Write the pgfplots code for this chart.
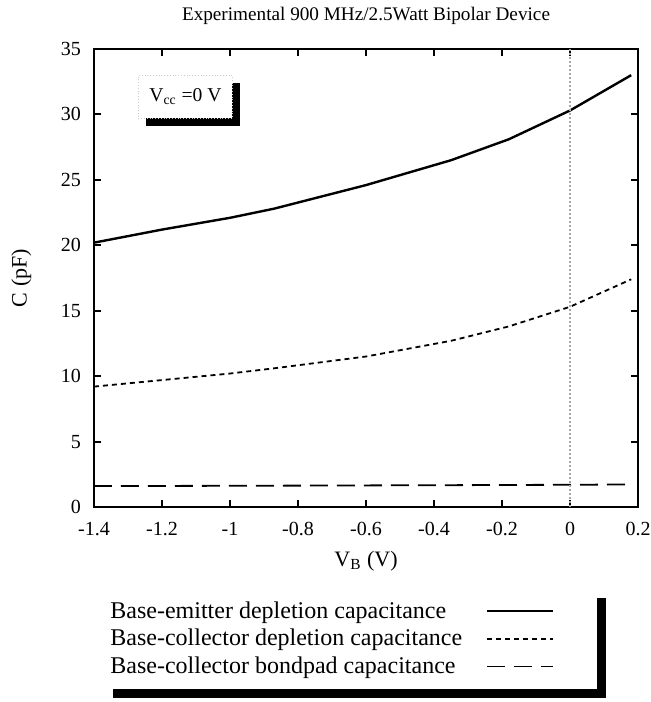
\documentclass[border=0pt]{standalone}
\usepackage{fontspec}
\setmainfont{Liberation Serif}
\usepackage{pgfplots}
\pgfplotsset{compat=1.18}
\usetikzlibrary{shadows, calc}

\begin{document}
\begin{tikzpicture}
\begin{axis}[
    scale only axis,
    width=272pt, height=229pt,
    xmin=-1.4, xmax=0.2, ymin=0, ymax=35,
    xtick={-1.4,-1.2,-1,-0.8,-0.6,-0.4,-0.2,0,0.2},
    xticklabels={-1.4,-1.2,-1,-0.8,-0.6,-0.4,-0.2,0,0.2},
    ytick={0,5,10,15,20,25,30,35},
    /pgf/number format/assume math mode=true,
    tick label style={font=\fontsize{10}{11}\selectfont},
    xticklabel style={yshift=-4pt},
    yticklabel style={xshift=-3pt},
    axis line style={line width=1pt},
    major tick length=3.5pt,
    tick style={line width=1pt, black},
    xlabel={V\textsubscript{B} (V)},
    ylabel={C (pF)},
    label style={font=\fontsize{11}{12}\selectfont},
    xlabel style={yshift=-1pt},
    ylabel style={yshift=8pt},
    title={Experimental 900 MHz/2.5Watt Bipolar Device},
    title style={font=\fontsize{9.6}{11}\selectfont, yshift=2.5pt},
    legend plot pos=right,
    legend cell align=left,
    legend style={
        name=leg,
        at={(0.4715,-0.179)}, anchor=north,
        font=\fontsize{12}{13.75}\selectfont,
        draw=none, fill=white,
        row sep=0pt,
        inner xsep=1pt, inner ysep=4pt,
    },
    legend image code/.code={
        \path (0pt,0pt) (63pt,0pt);
        \draw[#1] (10pt,0pt) -- (43pt,0pt);
    },
]
\addplot[black, line width=1.2pt] coordinates {
    (-1.4,20.2) (-1.2,21.2) (-1.0,22.1) (-0.87,22.8) (-0.6,24.6)
    (-0.35,26.5) (-0.18,28.1) (0,30.3) (0.18,33.0)
};
\addlegendentry{Base-emitter depletion capacitance}
\addplot[black, line width=0.9pt, dash pattern=on 2.5pt off 2pt] coordinates {
    (-1.4,9.2) (-1.2,9.7) (-1.0,10.2) (-0.87,10.6) (-0.6,11.5)
    (-0.35,12.7) (-0.18,13.8) (0,15.3) (0.18,17.4)
};
\addlegendentry{Base-collector depletion capacitance}
\addplot[black, line width=0.9pt, dash pattern=on 9pt off 4.5pt] coordinates {
    (-1.4,1.6) (-1.0,1.62) (-0.6,1.65) (-0.2,1.68) (0,1.7) (0.18,1.72)
};
\addlegendentry{Base-collector bondpad capacitance}
\addplot[gray!70, line width=1pt, densely dotted, forget plot] coordinates {(0,0) (0,35)};
\node[draw=black!20, densely dotted, fill=white,
      drop shadow={shadow xshift=4pt, shadow yshift=-4pt, opacity=1, fill=black},
      minimum width=47pt, minimum height=21.5pt, font=\fontsize{9.8}{11}\selectfont]
    at (axis cs:-1.131,31.36) {V\textsubscript{cc} =0 V};
\end{axis}
% shadow of the legend box
\fill[black] ($(leg.north east)+(0,-4.5pt)$) rectangle ($(leg.south east)+(4.5pt,-4.5pt)$);
\fill[black] ($(leg.south west)+(4.5pt,0)$) rectangle ($(leg.south east)+(4.5pt,-4.5pt)$);
\pgfresetboundingbox
\path[use as bounding box] ($(current axis.south west)+(-47pt,-97.5pt)$)
    rectangle ($(current axis.north east)+(6pt,24.5pt)$);
\end{tikzpicture}
\end{document}
